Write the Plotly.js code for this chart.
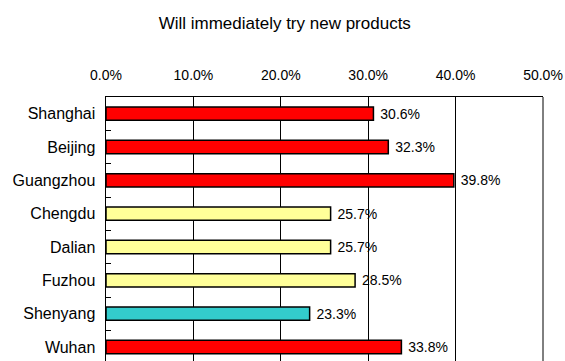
<!DOCTYPE html>
<html>
<head>
<meta charset="utf-8">
<script src="https://cdn.plot.ly/plotly-3.0.1.min.js"></script>
<style>html,body{margin:0;padding:0;overflow:hidden;background:#fff}#chart{width:565px;height:361px}</style>
</head>
<body>
<div id="chart"></div>
<script>
var titleText = "Will immediately try new products";
var cities = ["Shanghai","Beijing","Guangzhou","Chengdu","Dalian","Fuzhou","Shenyang","Wuhan"];
var values = [0.306,0.323,0.398,0.257,0.257,0.285,0.233,0.338];
var colors = ["#FF0000","#FF0000","#FF0000","#FFFF99","#FFFF99","#FFFF99","#33CCCC","#FF0000"];

var trace = {
  type: "bar",
  orientation: "h",
  y: cities,
  x: values,
  marker: {color: colors, line: {color: "#000", width: 1.5}},
  text: values.map(function(v){return "\u00A0" + (v*100).toFixed(1)+"%";}),
  textposition: "outside",
  constraintext: "none",
  textfont: {family: "Liberation Sans, Arial, sans-serif", size: 14, color: "#000"},
  cliponaxis: false,
  hoverinfo: "none"
};

var layout = {
  width: 565, height: 361,
  margin: {l: 106, r: 21.5, t: 97, b: 0, pad: 0},
  paper_bgcolor: "#fff", plot_bgcolor: "#fff",
  font: {family: "Liberation Sans, Arial, sans-serif", size: 14, color: "#000"},
  showlegend: false,
  bargap: 0.6,
  title: {text: titleText, font: {size: 17, color: "#000"}, xref: "container", yref: "container", x: 0.504, y: 0.935, xanchor: "center", yanchor: "middle"},
  xaxis: {
    side: "top", range: [0, 0.5], dtick: 0.1, tick0: 0, tickformat: ".1%",
    showgrid: true, gridcolor: "#000", gridwidth: 1,
    showline: true, linecolor: "#000", linewidth: 1,
    ticks: "", ticklabelstandoff: 10, zeroline: false,
    tickfont: {size: 14}
  },
  yaxis: {
    type: "category", range: [7.42, -0.5],
    showline: true, linecolor: "#000", linewidth: 1.5, mirror: false,
    ticks: "inside", ticklen: 5, tickcolor: "#000", tickwidth: 1, tickson: "boundaries",
    showgrid: false, zeroline: false, ticklabelstandoff: 6,
    tickfont: {size: 16}
  },
  shapes: [
    {type: "line", xref: "paper", yref: "paper", x0: 1, x1: 1, y0: 0, y1: 1, line: {color: "#000", width: 1}}
  ]
};

Plotly.newPlot("chart", [trace], layout, {staticPlot: true, displayModeBar: false});
</script>
</body>
</html>
